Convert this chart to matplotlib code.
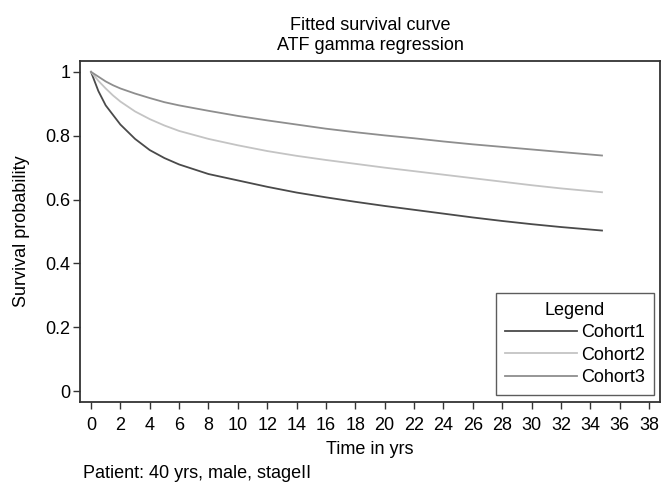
import matplotlib
matplotlib.use('Agg')
import matplotlib.pyplot as plt

plt.rcParams['font.family'] = ['Liberation Sans', 'DejaVu Sans']

# values
time_yrs = [0, 0.5, 1, 1.5, 2, 3, 4, 5, 6, 8, 10, 12, 14, 16, 18, 20,
            22, 24, 26, 28, 30, 32, 34.8]
cohort1 = [1.0, 0.94, 0.895, 0.865, 0.835, 0.79, 0.755, 0.73, 0.71, 0.68,
           0.66, 0.64, 0.622, 0.607, 0.593, 0.58, 0.568, 0.556, 0.544,
           0.533, 0.523, 0.514, 0.503]
cohort2 = [1.0, 0.972, 0.948, 0.926, 0.907, 0.876, 0.852, 0.832, 0.815, 0.79,
           0.77, 0.752, 0.737, 0.724, 0.712, 0.7, 0.689, 0.678, 0.667,
           0.656, 0.645, 0.635, 0.623]
cohort3 = [1.0, 0.985, 0.97, 0.958, 0.948, 0.932, 0.918, 0.905, 0.895, 0.878,
           0.862, 0.848, 0.835, 0.822, 0.811, 0.801, 0.792, 0.782, 0.773,
           0.765, 0.757, 0.749, 0.738]

x_ticks = list(range(0, 39, 2))
y_ticks = [0, 0.2, 0.4, 0.6, 0.8, 1]
y_ticklabels = ['0', '0.2', '0.4', '0.6', '0.8', '1']

fs = 13
fig = plt.figure(figsize=(6.62, 4.82), dpi=100)
ax = fig.add_axes([80 / 662, 1 - 402 / 482, 580 / 662, 341 / 482])

ax.plot(time_yrs, cohort1, color='#4a4a4a', linewidth=1.3, label='Cohort1')
ax.plot(time_yrs, cohort2, color='#c4c4c4', linewidth=1.3, label='Cohort2')
ax.plot(time_yrs, cohort3, color='#8e8e8e', linewidth=1.3, label='Cohort3')

ax.set_xlim(-0.75, 38.75)
ax.set_ylim(-0.034, 1.034)
ax.set_xticks(x_ticks)
ax.set_yticks(y_ticks)
ax.set_yticklabels(y_ticklabels)
ax.tick_params(direction='out', length=5, width=1, color='#333333',
               labelsize=fs)
ax.tick_params(axis='x', pad=6)
ax.tick_params(axis='y', pad=2)
for sp in ax.spines.values():
    sp.set_color('#333333')
    sp.set_linewidth(1.3)

ax.set_xlabel('Time in yrs', fontsize=fs, labelpad=5)
ax.set_ylabel('Survival probability', fontsize=fs)
ax.yaxis.set_label_coords(-0.086, 0.5)
ax.set_title('Fitted survival curve\nATF gamma regression', fontsize=fs,
             linespacing=1.25, pad=8)

leg = ax.legend(title='Legend', loc='lower right',
                bbox_to_anchor=(0.99, 0.0205), fontsize=fs,
                title_fontsize=fs, frameon=True, fancybox=False,
                handlelength=4.0, handletextpad=0.25, labelspacing=0.3,
                borderpad=0.5, borderaxespad=0)
leg.get_frame().set_edgecolor('#333333')
leg.get_frame().set_linewidth(1.0)

fig.text(83 / 662, 1 - 478 / 482, 'Patient: 40 yrs, male, stageII',
         fontsize=fs, ha='left', va='baseline')

fig.savefig('out.png', dpi=100)
